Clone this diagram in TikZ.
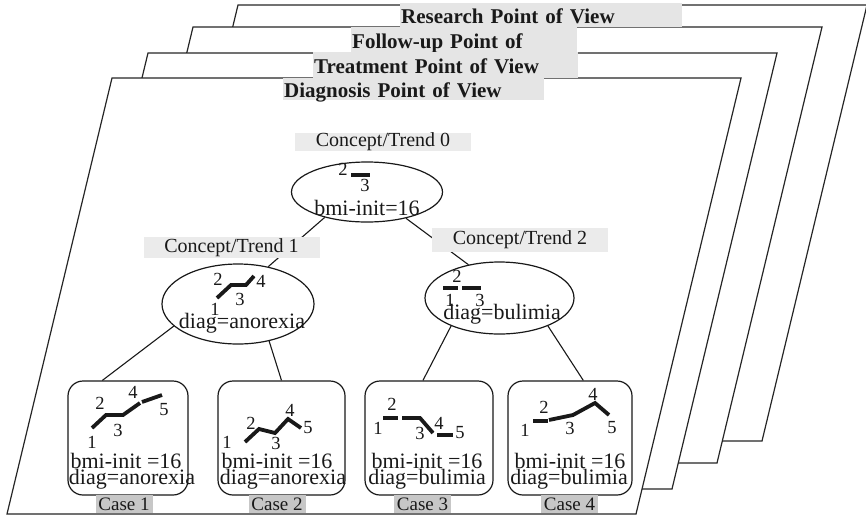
\documentclass[tikz,border=0pt]{standalone}
\usepackage{fontspec}
\setmainfont{Liberation Serif}
\usetikzlibrary{shapes.geometric}

\begin{document}
\begin{tikzpicture}[x=1pt, y=-1pt,
	every node/.style={font=\fontsize{22}{22}\selectfont, text=black!90, inner sep=0pt},
	plane/.style={draw=black!85, fill=white, line width=1.2pt},
	view/.style={fill=black!10, anchor=north west, align=left, font=\fontsize{21}{21}\selectfont\bfseries, text height=17pt, text depth=0pt, inner xsep=1pt},
	trendbox/.style={fill=black!8, minimum width=176pt, font=\fontsize{20}{20}\selectfont},
	trend/.style={draw=black!90, ellipse, line width=1.2pt, minimum width=151pt},
	casebox/.style={draw=black!90, rounded corners=15pt, line width=1.2pt, minimum height=114pt},
	caselabel/.style={fill=black!22, minimum width=57pt, minimum height=18pt, font=\fontsize{19}{19}\selectfont},
	num/.style={font=\fontsize{18.5}{18.5}\selectfont},
	trace/.style={line width=3.8pt, black!90},
	link/.style={line width=1.1pt, black!90}]
	\useasboundingbox (0,0) rectangle (866,517);
	\foreach \x/\y in {238/5, 193/27, 148/53, 112/78}
		\draw[plane] (\x,\y) -- ++(629,0) -- ++(-105,436) -- ++(-629,0) -- cycle;
	\node[view, text width=280pt, minimum height=24pt] (research) at (400,3) {Research Point of View};
	\node[view, text width=224pt, minimum height=25pt] (followup) at (351,27) {Follow-up Point of};
	\node[view, text width=263pt, minimum height=26pt] (treatment) at (313,52) {Treatment Point of View};
	\node[view, text width=259pt, minimum height=22pt] (diagnosis) at (283,78) {Diagnosis Point of View};
	
	\node[trend, minimum height=60pt] (c0) at (367,192) {};
	\node[trend, minimum width=152pt, minimum height=80pt] (c1) at (238,304) {};
	\node[trend, minimum width=149pt, minimum height=72pt] (c2) at (499.5,298) {};
	\foreach \i/\x/\w in {1/128/120, 2/281.5/127, 3/429/128, 4/570/124}
		\node[casebox, minimum width=\w pt] (case\i) at (\x,438) {};
	\draw[link] (c0.211) -- (c1.51);
	\draw[link] (c0.-34) -- (c2.133);
	\draw[link] (c1.199) -- (case1.114);
	\draw[link] (c1.-50) -- (case2.north);
	\draw[link] (c2.210) -- (case3.96);
	\draw[link] (c2.-30) -- (case4.77);
	\node[trendbox, minimum height=18pt] (t0) at (383,142) {Concept/Trend 0};
	\node[trendbox, minimum height=21pt] (t1) at (231.5,247.5) {Concept/Trend 1};
	\node[trendbox, minimum height=24pt] (t2) at (520,240) {Concept/Trend 2};
	
	\draw[trace] (351,175) -- (370,175);
	\draw[trace] (217,298) -- (231,285) -- (246,285) -- (254,276);
	\draw[trace] (443,288) -- (458,288);
	\draw[trace] (462,288) -- (481,288);
	\draw[trace] (92,428) -- (106,415) -- (123,415) -- (140,403);
	\draw[trace] (142,402) -- (162,395);
	\draw[trace] (245,442) -- (259,429) -- (275,433) -- (288,419) -- (301,428);
	\draw[trace] (383,418) -- (398,418);
	\draw[trace] (402,418) -- (420,418) -- (433,433);
	\draw[trace] (437,435) -- (453,435);
	\draw[trace] (533,421) -- (548,421);
	\draw[trace] (549,420) -- (573,415) -- (595,403) -- (609,415);
	\foreach \t/\x/\y [count=\k] in {2/343/169, 3/365/185,
		1/215/309, 2/218/279, 3/240/299, 4/261/281,
		1/450/300, 2/457/276, 3/480/300,
		1/92/442, 2/100/403, 3/118/430, 4/133/392, 5/164/410,
		1/227/442, 2/251/423, 3/276/443, 4/290/410, 5/308/428,
		1/378/428, 2/392/404, 3/420/433, 4/439/423, 5/460/433,
		1/525/430, 2/544/407, 3/570/428, 4/593/394, 5/612/428}
		\node[num] (d\k) at (\x,\y) {\t};
	
	\node[anchor=base] (v0) at (367,215) {bmi-init=16};
	\node[anchor=base] (v1) at (242,328) {diag=anorexia};
	\node[anchor=base] (v2) at (502,319) {diag=bulimia};
	\foreach \i/\xb/\xd/\dg in {1/126/132/anorexia, 2/277/283/anorexia, 3/427/427/bulimia, 4/570/569/bulimia} {
		\node[anchor=base] (bmi\i) at (\xb,468) {bmi-init =16};
		\node[anchor=base] (diag\i) at (\xd,484) {diag=\dg};
	}
	\foreach \i/\x in {1/124, 2/277, 3/422.5, 4/569.5}
		\node[caselabel] (lab\i) at (\x,504) {Case \i};
\end{tikzpicture}
\end{document}
